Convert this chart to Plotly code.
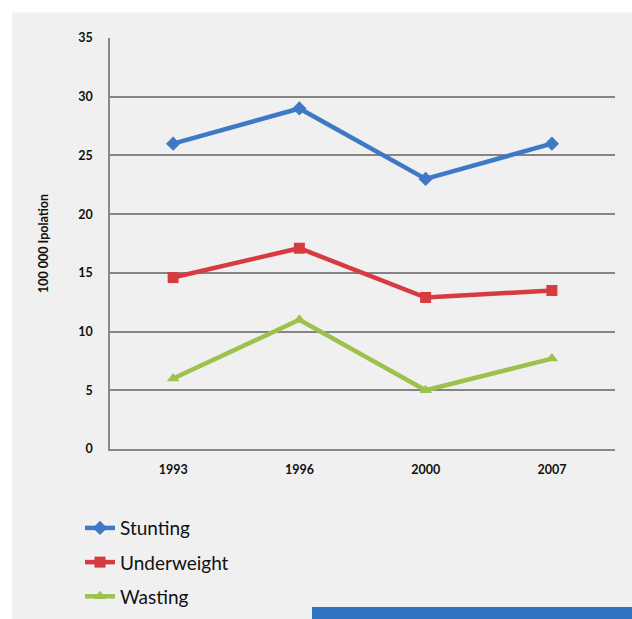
import plotly.graph_objects as go

years = ["1993", "1996", "2000", "2007"]
stunting = [26, 29, 23, 26]
underweight = [14.6, 17.1, 12.9, 13.5]
wasting = [6, 11, 5, 7.7]
y_ticks = [0, 5, 10, 15, 20, 25, 30, 35]

fig = go.Figure()
series = [
    ("Stunting", stunting, "#3f78c4", "diamond"),
    ("Underweight", underweight, "#d63b40", "square"),
    ("Wasting", wasting, "#9cc24c", "triangle-up"),
]
for name, vals, col, sym in series:
    fig.add_trace(go.Scatter(
        x=years, y=vals, name=name, mode="lines+markers", legendgroup=name,
        line=dict(color=col, width=4.5),
        marker=dict(symbol=sym, size=11, color=col),
    ))

W, H = 632, 630
K = 1.009  # reference pixel -> figure pixel (vertical)
# plot area in reference (screen) pixels
SL, SR, ST, SB = 110, 615, 37.3, 444.5
fST, fSB = ST * K, SB * K
L, T, R, B = SL, fST, W - SR, H - fSB
pw, ph = SR - SL, fSB - fST

def px(x):
    return (x - SL) / pw

def py(y):  # y in reference pixels
    return (fSB - y * K) / ph

shapes = [
    dict(type="rect", xref="paper", yref="paper", x0=px(-5), x1=px(W + 5), y0=py(-5), y1=py(12),
         fillcolor="white", line_width=0, layer="below"),
    dict(type="rect", xref="paper", yref="paper", x0=px(-5), x1=px(12), y0=py(-5), y1=py(640),
         fillcolor="white", line_width=0, layer="below"),
    dict(type="rect", xref="paper", yref="paper", x0=px(312), x1=px(W + 5), y0=py(601), y1=py(640),
         fillcolor="#2f74c4", line_width=0, layer="above"),
]

fig.update_layout(
    width=W, height=H,
    margin=dict(l=L, r=R, t=T, b=B),
    paper_bgcolor="#f0f0f0", plot_bgcolor="#f0f0f0",
    shapes=shapes,
    font=dict(family="Lato", color="#111"),
    legend=dict(
        x=px(80), y=py(504), xanchor="left", yanchor="top",
        orientation="v", font=dict(size=19, family="Lato", color="#111"),
        bgcolor="rgba(0,0,0,0)", tracegroupgap=6.5, itemwidth=30,
    ),
    xaxis=dict(
        type="category", range=[-0.5, 3.5], showgrid=False,
        tickfont=dict(size=12.5, family="Lato", weight="bold"),
        ticks="", showline=True, linecolor="#888", linewidth=1.5,
        ticklabelstandoff=8,
    ),
    yaxis=dict(
        range=[0, 35], tickvals=y_ticks, showgrid=True, gridcolor="#858585", gridwidth=1.6,
        tickfont=dict(size=12.5, family="Lato", weight="bold"),
        showline=True, linecolor="#888", linewidth=1.5, zeroline=False,
        ticks="", ticklabelstandoff=13,
        title=dict(text="100 000 Ipolation", font=dict(size=12.5, family="Lato", weight="bold"), standoff=27),
    ),
)

post = (
    "var d=document.documentElement, b=document.body;"
    "d.style.margin='0'; d.style.padding='0'; d.style.overflow='hidden';"
    "b.style.margin='0'; b.style.padding='0'; b.style.overflow='hidden';"
)

fig.write_html(
    "out.html",
    config={"displayModeBar": False},
    post_script=post,
)
